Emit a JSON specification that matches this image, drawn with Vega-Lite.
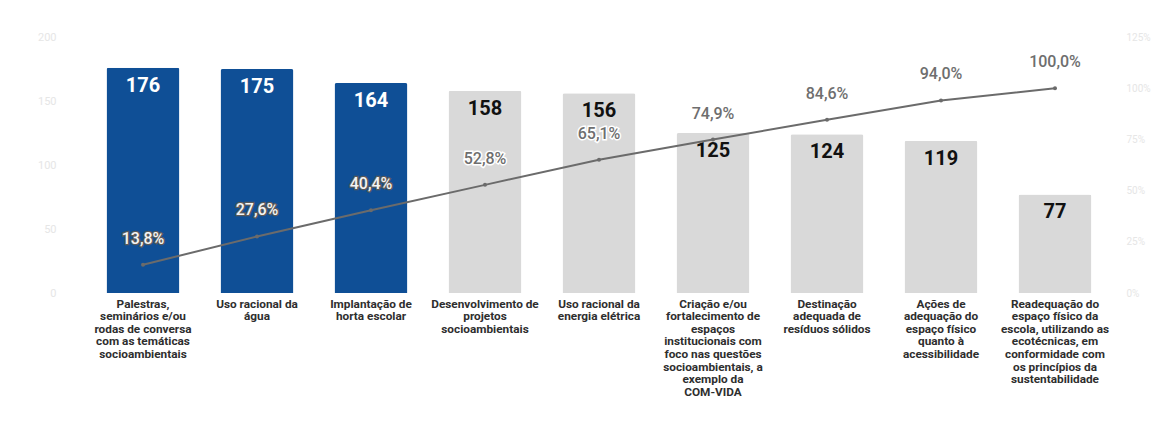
{
  "$schema": "https://vega.github.io/schema/vega-lite/v6.json",
  "autosize": "none",
  "width": 1026,
  "height": 256,
  "padding": {"left": 86, "top": 37, "right": 40, "bottom": 143},
  "background": "white",
  "config": {
    "font": "Roboto",
    "view": {"stroke": null},
    "locale": {"number": {"decimal": ",", "thousands": ".", "grouping": [3], "currency": ["R$", ""]}}
  },
  "data": {
    "values": [
      {"cat": "Palestras,|seminários e/ou|rodas de conversa|com as temáticas|socioambientais", "n": 176, "cum": 0.138, "grupo": "A"},
      {"cat": "Uso racional da|água", "n": 175, "cum": 0.276, "grupo": "A"},
      {"cat": "Implantação de|horta escolar", "n": 164, "cum": 0.404, "grupo": "A"},
      {"cat": "Desenvolvimento de|projetos|socioambientais", "n": 158, "cum": 0.528, "grupo": "B"},
      {"cat": "Uso racional da|energia elétrica", "n": 156, "cum": 0.651, "grupo": "B"},
      {"cat": "Criação e/ou|fortalecimento de|espaços|institucionais com|foco nas questões|socioambientais, a|exemplo da|COM-VIDA", "n": 125, "cum": 0.749, "grupo": "B"},
      {"cat": "Destinação|adequada de|resíduos sólidos", "n": 124, "cum": 0.846, "grupo": "B"},
      {"cat": "Ações de|adequação do|espaço físico|quanto à|acessibilidade", "n": 119, "cum": 0.94, "grupo": "B"},
      {"cat": "Readequação do|espaço físico da|escola, utilizando as|ecotécnicas, em|conformidade com|os princípios da|sustentabilidade", "n": 77, "cum": 1.0, "grupo": "B"}
    ]
  },
  "encoding": {
    "x": {
      "field": "cat",
      "type": "nominal",
      "sort": null,
      "title": null,
      "scale": {"paddingInner": 0.36, "paddingOuter": 0.18},
      "axis": {
        "labelAngle": 0,
        "labelExpr": "split(datum.label, '|')",
        "labelFont": "Roboto",
        "labelFontWeight": "bold",
        "labelFontSize": 11.8,
        "labelColor": "#2e2e2e",
        "labelLineHeight": 12.6,
        "labelPadding": 5,
        "labelLimit": 0,
        "labelOverlap": false,
        "labelBound": false,
        "ticks": false,
        "domain": false,
        "labelBaseline": "top"
      }
    }
  },
  "layer": [
    {
      "encoding": {
        "y": {
          "field": "n",
          "type": "quantitative",
          "title": null,
          "scale": {"domain": [0, 200], "nice": false},
          "axis": {
            "values": [0, 50, 100, 150, 200],
            "grid": false,
            "ticks": false,
            "domain": false,
            "labelColor": "#e6e6e6",
            "labelFontSize": 11,
            "labelPadding": 30
          }
        }
      },
      "layer": [
        {
          "mark": {"type": "bar", "cornerRadiusTopLeft": 2, "cornerRadiusTopRight": 2},
          "encoding": {
            "color": {
              "field": "grupo",
              "type": "nominal",
              "scale": {"domain": ["A", "B"], "range": ["#0f4f96", "#d9d9d9"]},
              "legend": null
            }
          }
        },
        {
          "mark": {"type": "text", "baseline": "top", "dy": 8, "fontSize": 20, "fontWeight": "bold", "font": "Roboto"},
          "encoding": {
            "text": {"field": "n", "type": "quantitative"},
            "color": {"condition": {"test": "datum.grupo === 'A'", "value": "white"}, "value": "#111111"}
          }
        }
      ]
    },
    {
      "encoding": {
        "y": {
          "field": "cum",
          "type": "quantitative",
          "title": null,
          "scale": {"domain": [0, 1.25], "nice": false},
          "axis": {
            "orient": "right",
            "values": [0, 0.25, 0.5, 0.75, 1, 1.25],
            "format": ".0%",
            "grid": false,
            "ticks": false,
            "domain": false,
            "labelColor": "#e6e6e6",
            "labelFontSize": 10,
            "labelPadding": 14
          }
        }
      },
      "layer": [
        {
          "mark": {"type": "line", "color": "#6b6b6b", "strokeWidth": 2}
        },
        {
          "mark": {"type": "point", "filled": true, "size": 16, "color": "#6b6b6b", "opacity": 1}
        },
        {
          "mark": {"type": "text", "dy": -26, "baseline": "middle", "fontSize": 16, "font": "Roboto", "fontWeight": 500},
          "encoding": {
            "text": {"field": "cum", "type": "quantitative", "format": ".1%"},
            "stroke": {"condition": {"test": "datum.grupo === 'A'", "value": "#5a5a5a"}, "value": "white"},
            "strokeWidth": {"condition": {"test": "datum.grupo === 'A'", "value": 2.5}, "value": 3},
            "color": {"value": "white"}
          }
        },
        {
          "mark": {"type": "text", "dy": -26, "baseline": "middle", "fontSize": 16, "font": "Roboto", "fontWeight": 500},
          "encoding": {
            "text": {"field": "cum", "type": "quantitative", "format": ".1%"},
            "color": {"condition": {"test": "datum.grupo === 'A'", "value": "#f4f4f4"}, "value": "#6e6e6e"}
          }
        }
      ]
    }
  ],
  "resolve": {"scale": {"y": "independent"}, "axis": {"y": "independent"}}
}
